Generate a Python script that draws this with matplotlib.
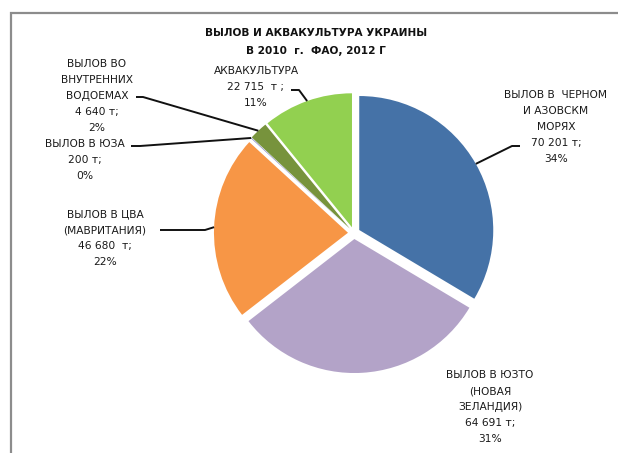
import numpy as np
import matplotlib
matplotlib.use("Agg")
import matplotlib.pyplot as plt
from matplotlib.patches import Rectangle

# ---- data ----
categories = [
    "ВЫЛОВ В  ЧЕРНОМ\nИ АЗОВСКМ\nМОРЯХ",
    "ВЫЛОВ В ЮЗТО\n(НОВАЯ\nЗЕЛАНДИЯ)",
    "ВЫЛОВ В ЦВА\n(МАВРИТАНИЯ)",
    "ВЫЛОВ В ЮЗА",
    "ВЫЛОВ ВО\nВНУТРЕННИХ\nВОДОЕМАХ",
    "АКВАКУЛЬТУРА",
]
values = [70201, 64691, 46680, 200, 4640, 22715]
value_texts = ["70 201 т;", "64 691 т;", "46 680  т;", "200 т;", "4 640 т;", "22 715  т ;"]
colors = ["#4572A7", "#B3A3C8", "#F79646", "#8C8FC4", "#77933C", "#92D050"]
title = "ВЫЛОВ И АКВАКУЛЬТУРА УКРАИНЫ\nВ 2010  г.  ФАО, 2012 Г"

W, H = 618, 453
fig = plt.figure(figsize=(W / 100, H / 100), dpi=100)
fig.patch.set_facecolor("white")

CX, CY, R = 354, 233, 134  # pixel centre/radius of pie
ax = fig.add_axes([0, 0, 1, 1])
ax.axis("off")

def P(px, py):
    return ((px - CX) / R, (CY - py) / R)

wedges, _ = ax.pie(values, colors=colors, startangle=90, counterclock=False,
                   explode=[0.045] * len(values), radius=1.0,
                   wedgeprops=dict(linewidth=0), frame=False)
ax.set_xlim(-CX / R, (W - CX) / R)
ax.set_ylim((CY - H) / R, CY / R)
ax.set_aspect("auto")

total = sum(values)
pcts = [f"{round(v / total * 100):.0f}%" for v in values]

FONT = ["Liberation Sans Narrow", "DejaVu Sans"]
fs = 7.7
tcol = "#1a1a1a"

# label centres in pixels and leader start (label side) points
label_pos = [(556, 127), (490, 407), (105, 238), (85, 160), (97, 96), (256, 87)]
leaders = {
    0: [(520, 146), (512, 146)],
    2: [(160, 230), (205, 230)],
    3: [(131, 146), (140, 146)],
    4: [(136, 97), (143, 97)],
    5: [(291, 90), (299, 90)],
}

for i, (w, cat) in enumerate(zip(wedges, categories)):
    txt = f"{cat}\n{value_texts[i]}\n{pcts[i]}"
    x, y = P(*label_pos[i])
    ax.text(x, y, txt, ha="center", va="center", fontsize=fs, family=FONT,
            color=tcol, linespacing=1.72)
    if i in leaders:
        ang = np.deg2rad((w.theta1 + w.theta2) / 2)
        cx, cy = w.center
        tx, ty = cx + 1.0 * np.cos(ang), cy + 1.0 * np.sin(ang)
        pts = [P(*p) for p in leaders[i]] + [(tx, ty)]
        xs, ys = zip(*pts)
        ax.plot(xs, ys, color="#111111", lw=1.4, solid_capstyle="butt")

tx, ty = P(316, 42)
ax.text(tx, ty, title, ha="center", va="center", fontsize=7.6, fontweight="bold",
        family=FONT, color="#111111", linespacing=1.9)

fig.patches.append(Rectangle((10.5 / W, -0.1), 1.2, 1.1 - 13 / H,
                             transform=fig.transFigure, fill=False,
                             edgecolor="#8c8c8c", lw=1.6, clip_on=False))

fig.savefig("out.png", dpi=100, facecolor="white")
